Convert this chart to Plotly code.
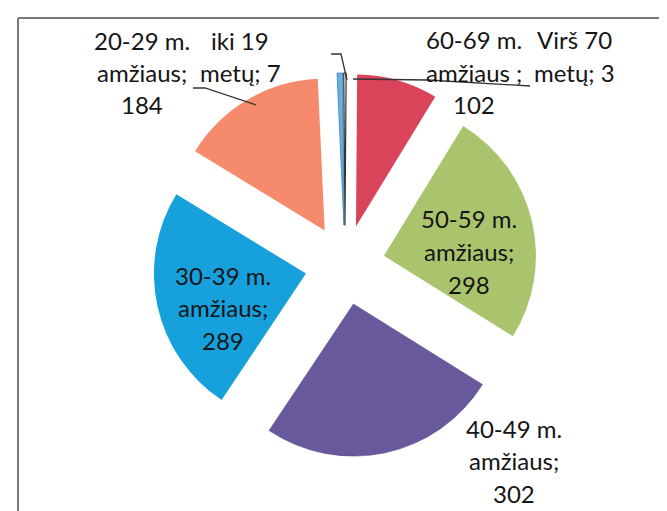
import plotly.graph_objects as go

W, H = 667, 511

# Data (clockwise order starting just left of 12 o'clock)
categories = ["iki 19 metų", "Virš 70 metų", "60-69 m. amžiaus", "50-59 m. amžiaus",
              "40-49 m. amžiaus", "30-39 m. amžiaus", "20-29 m. amžiaus"]
values = [7, 3, 102, 298, 302, 289, 184]
colors = ["#66B2E4", "#FFFFFF", "#D9445A", "#A9C46C", "#67599C", "#16A1DC", "#F58B6C"]

# label lines per category (text as shown in chart)
label_lines = {
    "iki 19 metų": ["iki 19", "metų; 7"],
    "Virš 70 metų": ["Virš 70", "metų; 3"],
    "60-69 m. amžiaus": ["60-69 m.", "amžiaus ;", "102"],
    "50-59 m. amžiaus": ["50-59 m.", "amžiaus;", "298"],
    "40-49 m. amžiaus": ["40-49 m.", "amžiaus;", "302"],
    "30-39 m. amžiaus": ["30-39 m.", "amžiaus;", "289"],
    "20-29 m. amžiaus": ["20-29 m.", "amžiaus;", "184"],
}


def px(x):
    return x / W


def py(y):
    return 1 - y / H


cx, cy = 337, 257
outer = 192  # radius incl. pull
pull = 0.263

fig = go.Figure(go.Pie(
    labels=categories,
    values=values,
    sort=False,
    direction="clockwise",
    rotation=-2.6,
    pull=[pull] * len(values),
    marker=dict(colors=colors,
                line=dict(color=["#3A7FB5", "#333333", "#D9445A", "#A9C46C", "#5A4E8C", "#16A1DC", "#F58B6C"],
                          width=[0.8, 1.2, 0, 0, 0.6, 0, 0])),
    textinfo="none",
    hoverinfo="label+value",
    showlegend=False,
    domain=dict(x=[px(cx - outer), px(cx + outer)], y=[py(cy + outer), py(cy - outer)]),
))

# label placement: (center x, first line y, line spacing)
label_pos = {
    "20-29 m. amžiaus": (134, 32, 32),
    "iki 19 metų": (232, 32, 32),
    "60-69 m. amžiaus": (466, 31, 33),
    "Virš 70 metų": (566, 31, 33),
    "50-59 m. amžiaus": (461, 210, 33),
    "30-39 m. amžiaus": (215, 267, 32.5),
    "40-49 m. amžiaus": (506, 420, 32.5),
}

annotations = []
for cat in categories:
    x, y0, dy = label_pos[cat]
    for i, line in enumerate(label_lines[cat]):
        annotations.append(dict(
            x=px(x), y=py(y0 + i * dy), xref="paper", yref="paper",
            text=line, showarrow=False, xanchor="center", yanchor="middle",
            font=dict(family="Lato", size=24, color="#151515"),
        ))

shapes = [
    # chart frame (top and left edges visible)
    dict(type="line", xref="paper", yref="paper", x0=px(10), y0=py(10), x1=px(667), y1=py(10),
         line=dict(color="#7A7A7A", width=2)),
    dict(type="line", xref="paper", yref="paper", x0=px(10), y0=py(10), x1=px(10), y1=py(511),
         line=dict(color="#7A7A7A", width=2)),
    # leader lines
    dict(type="path", xref="paper", yref="paper",
         path=f"M {px(248)} {py(97)} L {px(197)} {py(80)} L {px(185)} {py(80)}",
         line=dict(color="#333333", width=1.3)),
    dict(type="path", xref="paper", yref="paper",
         path=f"M {px(339)} {py(72)} L {px(333)} {py(46)} L {px(323)} {py(46)}",
         line=dict(color="#333333", width=1.3)),
    dict(type="path", xref="paper", yref="paper",
         path=f"M {px(345)} {py(71)} L {px(420)} {py(72)} L {px(522)} {py(78)}",
         line=dict(color="#333333", width=1.3)),
]

fig.update_layout(
    width=W, height=H,
    margin=dict(l=0, r=0, t=0, b=0),
    paper_bgcolor="white", plot_bgcolor="white",
    annotations=annotations,
    shapes=shapes,
)

fig.write_html("out.html")
